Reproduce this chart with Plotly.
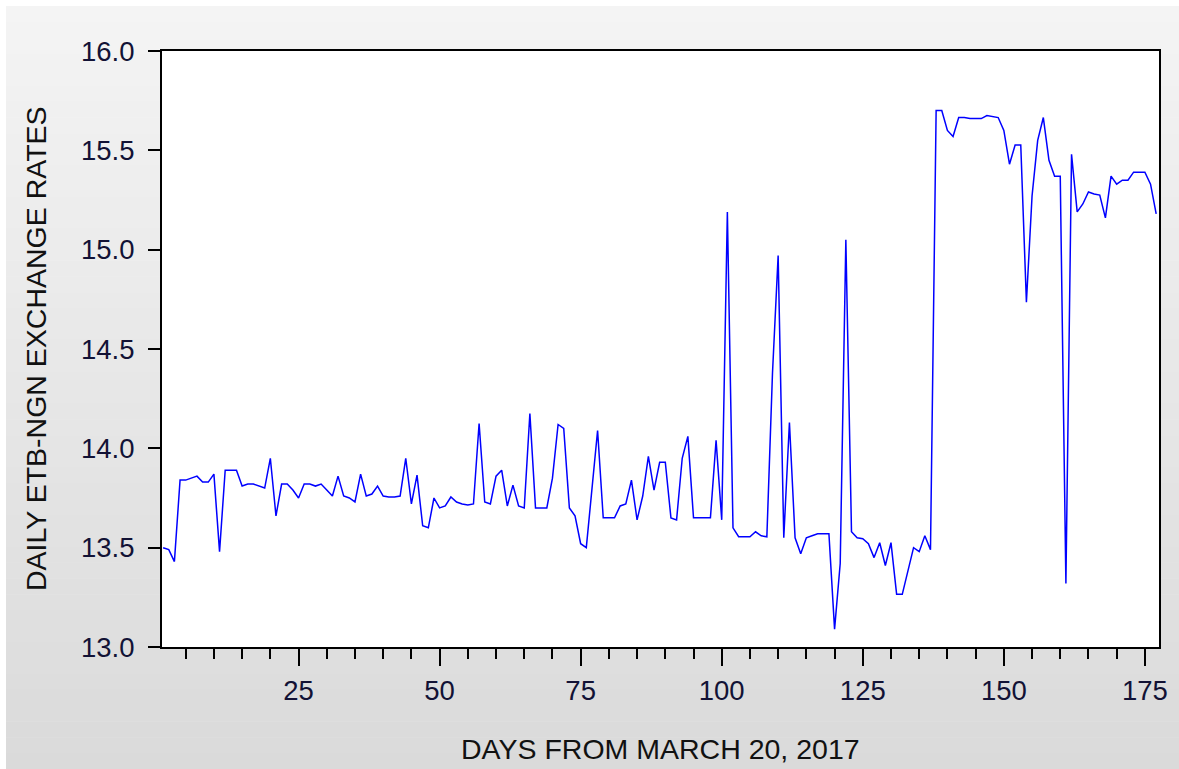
import plotly.graph_objects as go

days = list(range(1, 178))
rates = [
    13.50, 13.49, 13.43, 13.84, 13.84, 13.85, 13.86, 13.83, 13.83, 13.87,
    13.48, 13.89, 13.89, 13.89, 13.81, 13.82, 13.82, 13.81, 13.80, 13.95,
    13.66, 13.82, 13.82, 13.79, 13.75, 13.82, 13.82, 13.81, 13.82, 13.79,
    13.76, 13.86, 13.76, 13.75, 13.73, 13.87, 13.76, 13.77, 13.81, 13.76,
    13.755, 13.755, 13.76, 13.95, 13.72, 13.865, 13.61, 13.60, 13.75, 13.70,
    13.71, 13.755, 13.73, 13.72, 13.715, 13.72, 14.125, 13.73, 13.72, 13.86,
    13.89, 13.71, 13.815, 13.71, 13.70, 14.175, 13.70, 13.70, 13.70, 13.85,
    14.12, 14.10, 13.70, 13.66, 13.52, 13.50, 13.79, 14.09, 13.65, 13.65,
    13.65, 13.71, 13.72, 13.84, 13.64, 13.76, 13.96, 13.79, 13.93, 13.93,
    13.65, 13.64, 13.95, 14.06, 13.65, 13.65, 13.65, 13.65, 14.04, 13.64,
    15.19, 13.60, 13.555, 13.555, 13.555, 13.58, 13.56, 13.555, 14.38, 14.97,
    13.55, 14.13, 13.55, 13.47, 13.55, 13.56, 13.57, 13.57, 13.57, 13.09,
    13.42, 15.05, 13.58, 13.55, 13.545, 13.52, 13.45, 13.525, 13.41, 13.525,
    13.265, 13.265, 13.38, 13.50, 13.48, 13.56, 13.49, 15.70, 15.70, 15.60,
    15.57, 15.665, 15.665, 15.66, 15.66, 15.66, 15.675, 15.67, 15.665, 15.60,
    15.43, 15.527, 15.527, 14.735, 15.27, 15.55, 15.665, 15.45, 15.37, 15.37,
    13.32, 15.48, 15.19, 15.23, 15.29, 15.28, 15.275, 15.16, 15.37, 15.33,
    15.35, 15.35, 15.39, 15.39, 15.39, 15.33, 15.18,
]
x_tick_vals = [25, 50, 75, 100, 125, 150, 175]
y_tick_vals = [13.0, 13.5, 14.0, 14.5, 15.0, 15.5, 16.0]
y_tick_text = ["13.0", "13.5", "14.0", "14.5", "15.0", "15.5", "16.0"]
x_title = "DAYS FROM MARCH 20, 2017"
y_title = "DAILY ETB-NGN EXCHANGE RATES"

W, H = 1179, 769
L, R, T, B = 162, 20, 51, 122
pw, ph = W - L - R, H - T - B

def px2x(px):
    return (px - L) / pw

def py2y(py):
    return (H - B - py) / ph

fig = go.Figure()
fig.add_trace(go.Scatter(x=days, y=rates, mode="lines",
                         line=dict(color="#0000ff", width=1.5),
                         showlegend=False, hoverinfo="skip"))

shapes = []
nb = 48
top, bot = 6, H
for i in range(nb):
    y0p = top + (bot - top) * i / nb
    y1p = top + (bot - top) * (i + 1) / nb
    t = (i + 0.5) / nb
    c = int(round(244 - (244 - 218) * t))
    shapes.append(dict(type="rect", xref="paper", yref="paper", layer="below",
                       x0=px2x(6), x1=px2x(W + 2), y0=py2y(y1p + 0.5), y1=py2y(y0p),
                       line=dict(width=0), fillcolor=f"rgb({c},{c},{c})"))
shapes.append(dict(type="rect", xref="paper", yref="paper", layer="below",
                   x0=0, x1=1, y0=0, y1=1, line=dict(width=0), fillcolor="white"))

tick_font = dict(family="Liberation Sans, Arial, sans-serif", size=27.5, color="#121235")
title_font = dict(family="Liberation Sans, Arial, sans-serif", size=28.5, color="#111111")

fig.update_layout(
    width=W, height=H,
    margin=dict(l=L, r=R, t=T, b=B),
    paper_bgcolor="white", plot_bgcolor="white",
    shapes=shapes,
    annotations=[
        dict(text=x_title, xref="paper", yref="paper", x=0.5, y=py2y(749),
             xanchor="center", yanchor="middle", showarrow=False, font=title_font),
        dict(text=y_title, xref="paper", yref="paper", x=px2x(36), y=0.5,
             xanchor="center", yanchor="middle", showarrow=False, textangle=-90,
             font=title_font),
    ],
    xaxis=dict(range=[0.8, 177.5], tickmode="array", tickvals=x_tick_vals,
               ticks="outside", ticklen=17, tickwidth=1.5, tickcolor="black",
               showline=True, linecolor="black", linewidth=2, mirror=True,
               showgrid=False, zeroline=False, tickfont=tick_font,
               ticklabelstandoff=1,
               minor=dict(tickmode="linear", tick0=0, dtick=5, ticks="outside",
                          ticklen=10, tickwidth=1.5, tickcolor="black", showgrid=False)),
    yaxis=dict(range=[13.0, 16.0], tickmode="array", tickvals=y_tick_vals,
               ticktext=y_tick_text,
               ticks="outside", ticklen=12, tickwidth=1.5, tickcolor="black",
               showline=True, linecolor="black", linewidth=2, mirror=True,
               showgrid=False, zeroline=False, tickfont=tick_font,
               ticklabelstandoff=8),
)

fig.write_html("out.html")
